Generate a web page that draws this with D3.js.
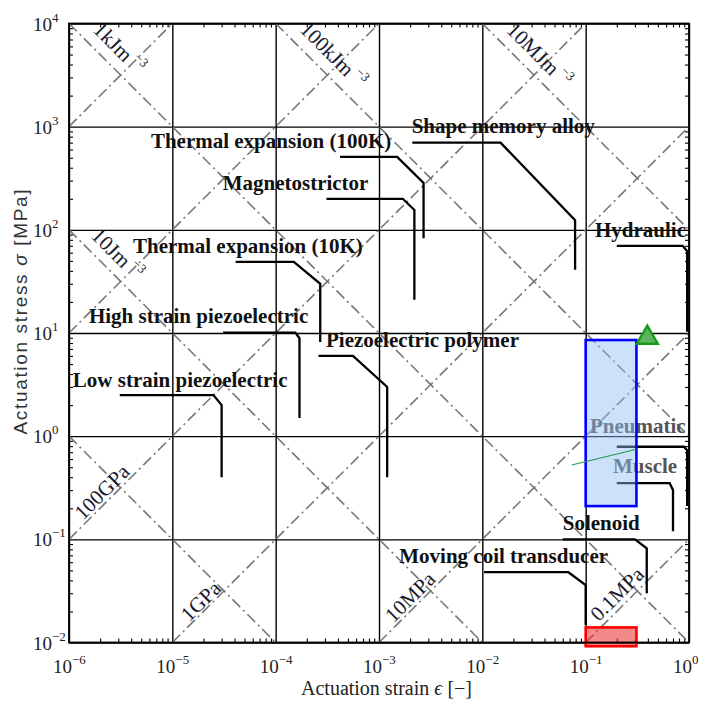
<!DOCTYPE html>
<html><head><meta charset="utf-8">
<script src="https://cdn.jsdelivr.net/npm/d3@7"></script>
<style>body{margin:0;background:#fff} svg{display:block}</style>
</head><body>
<svg id="c" width="704" height="702"></svg>
<script>
// ---------- data ----------
const strainTicks = [1e-6, 1e-5, 1e-4, 1e-3, 1e-2, 1e-1, 1];
const strainTickExp = ["−6", "−5", "−4", "−3", "−2", "−1", "0"];
const stressTicks = [1e-2, 1e-1, 1, 10, 100, 1000, 1e4];
const stressTickExp = ["−2", "−1", "0", "1", "2", "3", "4"];

const actuatorNames = ["Thermal expansion (100K)", "Magnetostrictor", "Shape memory alloy", "Hydraulic",
  "Thermal expansion (10K)", "High strain piezoelectric", "Piezoelectric polymer", "Low strain piezoelectric",
  "Pneumatic", "Muscle", "Solenoid", "Moving coil transducer"];
const actuatorStrain = [
  [4.2e-4, 1.5e-3, 2.7e-3, 2.7e-3],
  [3.1e-4, 1.7e-3, 2.2e-3, 2.2e-3],
  [2.1e-3, 0.015, 0.079, 0.079],
  [0.2, 0.87, 0.96, 0.96],
  [4.1e-5, 1.5e-4, 2.7e-4, 2.7e-4],
  [3.1e-5, 1.55e-4, 1.7e-4, 1.7e-4],
  [2.6e-4, 5.6e-4, 1.2e-3, 1.2e-3],
  [3.1e-6, 2.5e-5, 3.0e-5, 3.0e-5],
  [0.2, 0.89, 0.96, 0.96],
  [0.2, 0.65, 0.70, 0.70],
  [0.06, 0.30, 0.39, 0.39],
  [0.0104, 0.068, 0.1, 0.1]
];
const actuatorStress = [
  [510, 510, 285, 83],
  [200, 200, 156, 21],
  [700, 700, 124, 41],
  [70, 70, 62, 10.3],
  [49, 49, 30, 8.2],
  [10.1, 10.1, 8.9, 1.5],
  [6.0, 6.0, 3.0, 0.4],
  [2.5, 2.5, 2.0, 0.4],
  [0.79, 0.79, 0.73, 0.21],
  [0.35, 0.35, 0.30, 0.12],
  [0.1, 0.1, 0.082, 0.03],
  [0.048, 0.048, 0.036, 0.0148]
];
// label anchors (strain, stress) of each actuator name
const actuatorLabelStrain = [6.2e-6, 3.07e-5, 2.07e-3, 0.123, 4.16e-6, 1.56e-6, 3.07e-4, 1.09e-6, 0.110, 0.184, 0.060, 1.57e-3];
const actuatorLabelStress = [621, 243, 868, 85.3, 59.6, 12.5, 7.37, 3.02, 1.07, 0.44, 0.123, 0.0586];
const actuatorLabelColor = ["#111", "#111", "#111", "#111", "#111", "#111", "#111", "#111", "#555", "#555", "#111", "#111"];

// constant energy density lines (log10 of sigma*eps) and modulus lines (log10 of sigma/eps)
const energyExps = [-6, -4, -2, 0, 2];
const modulusExps = [-1, 1, 3, 5, 7, 9];
const energyLabels = ["1kJm", "100kJm", "10MJm", "10Jm"];
const energyLabelStrain = [3.05e-6, 3.6e-4, 0.0354, 2.92e-6];
const energyLabelStress = [5790, 4950, 4950, 58.3];
const modulusLabels = ["100GPa", "1GPa", "10MPa", "0.1MPa"];
const modulusLabelStrain = [2.08e-6, 1.89e-5, 2.0e-3, 0.201];
const modulusLabelStress = [0.288, 0.0252, 0.0276, 0.0295];

// highlighted regions
const blueBoxStrain = [0.1, 0.31];
const blueBoxStress = [0.21, 8.55];
const redBoxStrain = [0.1, 0.31];
const redBoxStress = [0.0092, 0.014];
const trianglePoint = [0.395, 9.0];
const greenLineStrain = [0.0733, 0.31];
const greenLineStress = [0.526, 0.746];

// ---------- chart ----------
const svg = d3.select("#c");
const L = 69, R = 689, T = 23.5, B = 642.5;
const x = d3.scaleLog().domain([1e-6, 1]).range([L, R]);
const y = d3.scaleLog().domain([1e-2, 1e4]).range([B, T]);
const W = R - L, H = B - T;

svg.append("rect").attr("width", 704).attr("height", 702).attr("fill", "#fff");

// grid
svg.append("g").attr("transform", `translate(0,${B})`)
  .call(d3.axisBottom(x).tickValues(strainTicks).tickSize(-H).tickFormat(""))
  .call(g => g.select(".domain").remove())
  .selectAll("line").attr("stroke", "#000").attr("stroke-width", 1.4);
svg.append("g").attr("transform", `translate(${L},0)`)
  .call(d3.axisLeft(y).tickValues(stressTicks).tickSize(-W).tickFormat(""))
  .call(g => g.select(".domain").remove())
  .selectAll("line").attr("stroke", "#000").attr("stroke-width", 1.4);

// minor ticks
const minorX = [], minorY = [];
for (let e = -6; e < 0; e++) for (let k = 2; k <= 9; k++) minorX.push(k * Math.pow(10, e));
for (let e = -2; e < 4; e++) for (let k = 2; k <= 9; k++) minorY.push(k * Math.pow(10, e));
function minor(axis, tr) {
  svg.append("g").attr("transform", tr)
    .call(axis.tickSize(-4).tickFormat(""))
    .call(g => g.select(".domain").remove())
    .selectAll("line").attr("stroke", "#000").attr("stroke-width", 1.1);
}
minor(d3.axisBottom(x).tickValues(minorX), `translate(0,${B})`);
minor(d3.axisTop(x).tickValues(minorX), `translate(0,${T})`);
minor(d3.axisLeft(y).tickValues(minorY), `translate(${L},0)`);
minor(d3.axisRight(y).tickValues(minorY), `translate(${R},0)`);

// diagonal dash-dot lines
const diag = svg.append("g").attr("stroke", "#777").attr("stroke-width", 1.6)
  .attr("stroke-dasharray", "11,4,2,4").attr("fill", "none");
energyExps.forEach(s => {
  const a = Math.max(-6, s - 4), b = Math.min(0, s + 2);
  if (b <= a) return;
  diag.append("line").attr("x1", x(10 ** a)).attr("y1", y(10 ** (s - a)))
    .attr("x2", x(10 ** b)).attr("y2", y(10 ** (s - b)));
});
modulusExps.forEach(d => {
  const a = Math.max(-6, -2 - d), b = Math.min(0, 4 - d);
  if (b <= a) return;
  diag.append("line").attr("x1", x(10 ** a)).attr("y1", y(10 ** (d + a)))
    .attr("x2", x(10 ** b)).attr("y2", y(10 ** (d + b)));
});

// diagonal labels
const serif = "'Liberation Serif','Times New Roman',serif";
energyLabels.forEach((t, i) => {
  const tx = svg.append("text")
    .attr("transform", `translate(${x(energyLabelStrain[i])},${y(energyLabelStress[i])}) rotate(45)`)
    .attr("text-anchor", "middle").attr("dominant-baseline", "central")
    .attr("font-family", serif).attr("font-size", 21).attr("fill", "#1a1a2e");
  tx.append("tspan").text(t);
  tx.append("tspan").attr("dy", -8).attr("font-size", 13).text(" −3");
});
modulusLabels.forEach((t, i) => {
  svg.append("text")
    .attr("transform", `translate(${x(modulusLabelStrain[i])},${y(modulusLabelStress[i])}) rotate(-45)`)
    .attr("text-anchor", "middle").attr("dominant-baseline", "central")
    .attr("font-family", serif).attr("font-size", 21).attr("fill", "#1a1a2e").text(t);
});

// actuator curves
const line = d3.line().x(d => x(d[0])).y(d => y(d[1]));
actuatorNames.forEach((n, i) => {
  const pts = actuatorStrain[i].map((e, j) => [e, actuatorStress[i][j]]);
  svg.append("path").attr("d", line(pts)).attr("fill", "none")
    .attr("stroke", "#000").attr("stroke-width", 2.3).attr("stroke-linejoin", "miter");
});
// actuator labels
actuatorNames.forEach((n, i) => {
  svg.append("text").attr("x", x(actuatorLabelStrain[i])).attr("y", y(actuatorLabelStress[i]))
    .attr("font-family", serif).attr("font-weight", "bold").attr("font-size", 21)
    .attr("fill", actuatorLabelColor[i]).text(n);
});

// highlight boxes
svg.append("rect")
  .attr("x", x(blueBoxStrain[0])).attr("y", y(blueBoxStress[1]))
  .attr("width", x(blueBoxStrain[1]) - x(blueBoxStrain[0]))
  .attr("height", y(blueBoxStress[0]) - y(blueBoxStress[1]))
  .attr("fill", "rgb(140,190,245)").attr("fill-opacity", 0.45)
  .attr("stroke", "#0000ff").attr("stroke-width", 2.6);
svg.append("rect")
  .attr("x", x(redBoxStrain[0])).attr("y", y(redBoxStress[1]))
  .attr("width", x(redBoxStrain[1]) - x(redBoxStrain[0]))
  .attr("height", y(redBoxStress[0]) - y(redBoxStress[1]))
  .attr("fill", "rgb(235,40,40)").attr("fill-opacity", 0.55)
  .attr("stroke", "#ff0000").attr("stroke-width", 2.6);
svg.append("line")
  .attr("x1", x(greenLineStrain[0])).attr("y1", y(greenLineStress[0]))
  .attr("x2", x(greenLineStrain[1])).attr("y2", y(greenLineStress[1]))
  .attr("stroke", "#1f9a4a").attr("stroke-width", 1.1);
svg.append("path")
  .attr("d", d3.symbol(d3.symbolTriangle, 190)())
  .attr("transform", `translate(${x(trianglePoint[0])},${y(trianglePoint[1])})`)
  .attr("fill", "#5fb35f").attr("stroke", "#1a9a1a").attr("stroke-width", 2.4);

// frame
svg.append("rect").attr("x", L).attr("y", T).attr("width", W).attr("height", H)
  .attr("fill", "none").attr("stroke", "#000").attr("stroke-width", 1.8);

// tick labels
strainTicks.forEach((v, i) => {
  const t = svg.append("text").attr("x", x(v) - 16).attr("y", 673)
    .attr("font-family", serif).attr("font-size", 19).attr("fill", "#222");
  t.append("tspan").text("10");
  t.append("tspan").attr("dy", -9).attr("font-size", 13).text(strainTickExp[i]);
});
stressTicks.forEach((v, i) => {
  const t = svg.append("text").attr("x", 33).attr("y", y(v) + 7)
    .attr("font-family", serif).attr("font-size", 19).attr("fill", "#222");
  t.append("tspan").text("10");
  t.append("tspan").attr("dy", -9).attr("font-size", 13).text(stressTickExp[i]);
});

// axis titles
svg.append("text").attr("x", (298 + 475) / 2).attr("y", 695).attr("text-anchor", "middle")
  .attr("font-family", serif).attr("font-size", 20).attr("fill", "#222")
  .html("Actuation strain <tspan font-style='italic'>ϵ</tspan> [−]");
svg.append("text").attr("transform", "translate(27,312) rotate(-90)").attr("text-anchor", "middle")
  .attr("font-family", "'Liberation Sans',Arial,sans-serif").attr("font-size", 19).attr("fill", "#333")
  .attr("textLength", 245).attr("lengthAdjust", "spacing")
  .html("Actuation stress <tspan font-style='italic'>σ</tspan> [MPa]");
</script>
</body></html>
